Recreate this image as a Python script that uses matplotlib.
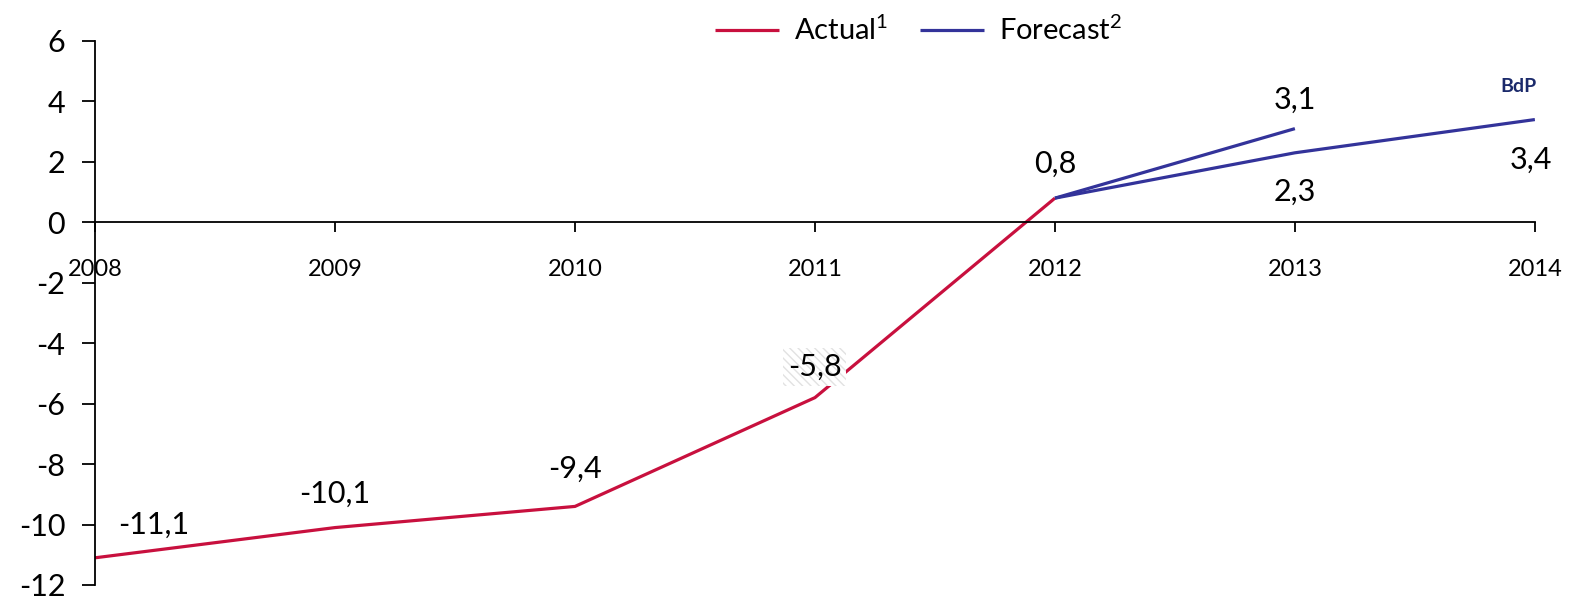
import matplotlib.pyplot as plt
import matplotlib.ticker as ticker

plt.rcParams['font.family'] = ['Lato', 'DejaVu Sans']
plt.rcParams['axes.unicode_minus'] = False
plt.rcParams['mathtext.fontset'] = 'custom'
plt.rcParams['mathtext.rm'] = 'Lato'
plt.rcParams['mathtext.it'] = 'Lato'

# 数据
years_actual = [2008, 2009, 2010, 2011, 2012]
actual = [-11.1, -10.1, -9.4, -5.8, 0.8]
years_fc_a = [2012, 2013]
forecast_a = [0.8, 3.1]
years_fc_b = [2012, 2013, 2014]
forecast_b = [0.8, 2.3, 3.4]
year_ticks = [2008, 2009, 2010, 2011, 2012, 2013, 2014]

red = '#C8103E'
blue = '#33339A'

fig = plt.figure(figsize=(15.71, 6), dpi=100)
ax = fig.add_axes([0.0605, 0.025, 0.9165, 0.9067])

ax.plot(years_actual, actual, color=red, lw=2.3, label=r'Actual$^{\mathrm{1}}$', solid_capstyle='butt')
ax.plot(years_fc_b, forecast_b, color=blue, lw=2.3, label=r'Forecast$^{\mathrm{2}}$', solid_capstyle='butt')
ax.plot(years_fc_a, forecast_a, color=blue, lw=2.3, solid_capstyle='butt')

ax.set_xlim(2008, 2014)
ax.set_ylim(-12, 6)

# 坐标轴样式
ax.spines['top'].set_visible(False)
ax.spines['right'].set_visible(False)
ax.spines['bottom'].set_position(('data', 0))
ax.spines['left'].set_linewidth(1.3)
ax.spines['bottom'].set_linewidth(1.3)
ax.yaxis.set_major_locator(ticker.MultipleLocator(2))
ax.set_xticks(year_ticks)
ax.tick_params(axis='y', direction='out', length=9.5, width=1.3, pad=12, labelsize=22)
ax.tick_params(axis='x', direction='out', length=7.5, width=1.3, pad=19, labelsize=17)
for lbl in ax.get_xticklabels():
    lbl.set_bbox(dict(facecolor='white', edgecolor='none', pad=1))
    lbl.set_zorder(5)

# 数值标签
def fmt(v):
    return f'{v:.1f}'.replace('.', ',')

label_offsets = [(42, 24), (0, 24), (0, 27), (0, 22), (0, 25)]
for x, y, off in zip(years_actual, actual, label_offsets):
    kw = {}
    if x == 2011:
        kw['bbox'] = dict(boxstyle='square,pad=0.15', facecolor='white',
                          edgecolor='#E2E2E2', hatch='\\\\\\\\', lw=0)
    ax.annotate(fmt(y), (x, y), xytext=off, textcoords='offset points',
                ha='center', va='center', fontsize=22, **kw)
ax.annotate(fmt(forecast_a[1]), (2013, forecast_a[1]), xytext=(0, 21),
            textcoords='offset points', ha='center', va='center', fontsize=22)
ax.annotate(fmt(forecast_b[1]), (2013, forecast_b[1]), xytext=(0, -28),
            textcoords='offset points', ha='center', va='center', fontsize=22)
ax.annotate(fmt(forecast_b[2]), (2014, forecast_b[2]), xytext=(-3, -29),
            textcoords='offset points', ha='center', va='center', fontsize=22)

ax.text(2013.93, 4.5, 'BdP', color='#1B2A6B', fontsize=14, fontweight='bold',
        ha='center', va='center')

ax.legend(loc='upper center', bbox_to_anchor=(0.572, 1.095), ncol=2, frameon=False,
          fontsize=21, handlelength=2.2, handletextpad=0.5, columnspacing=1.1)

fig.savefig('out.png', dpi=100)
